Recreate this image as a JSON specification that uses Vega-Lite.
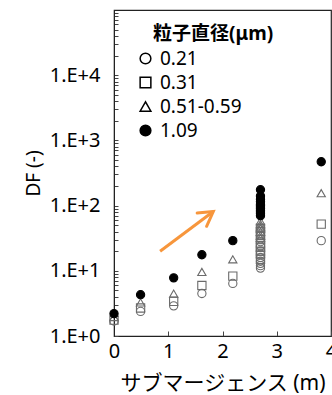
{
  "$schema": "https://vega.github.io/schema/vega-lite/v6.json",
  "width": 217,
  "height": 326,
  "autosize": "none",
  "padding": {"left": 114, "top": 10, "right": 1, "bottom": 59},
  "background": "white",
  "config": {
    "font": "Noto Sans, Noto Sans CJK JP",
    "view": {"stroke": "#222", "strokeWidth": 1.2}
  },
  "datasets": {
    "pts": [
      {"x": 0, "df": 1.7, "d": "0.21"},
      {"x": 0, "df": 1.75, "d": "0.31"},
      {"x": 0, "df": 1.95, "d": "0.51-0.59"},
      {"x": 0.49, "df": 2.38, "d": "0.21"},
      {"x": 0.49, "df": 2.69, "d": "0.31"},
      {"x": 0.49, "df": 3.28, "d": "0.51-0.59"},
      {"x": 1.1, "df": 2.9, "d": "0.21"},
      {"x": 1.1, "df": 3.4, "d": "0.31"},
      {"x": 1.1, "df": 4.47, "d": "0.51-0.59"},
      {"x": 1.62, "df": 4.48, "d": "0.21"},
      {"x": 1.62, "df": 5.96, "d": "0.31"},
      {"x": 1.62, "df": 9.6, "d": "0.51-0.59"},
      {"x": 2.19, "df": 6.4, "d": "0.21"},
      {"x": 2.19, "df": 8.3, "d": "0.31"},
      {"x": 2.19, "df": 15, "d": "0.51-0.59"},
      {"x": 2.7, "df": 28, "d": "0.21"},
      {"x": 2.7, "df": 24, "d": "0.21"},
      {"x": 2.7, "df": 20, "d": "0.21"},
      {"x": 2.7, "df": 18, "d": "0.21"},
      {"x": 2.7, "df": 16, "d": "0.21"},
      {"x": 2.7, "df": 14, "d": "0.21"},
      {"x": 2.7, "df": 13, "d": "0.21"},
      {"x": 2.7, "df": 12, "d": "0.21"},
      {"x": 2.7, "df": 11, "d": "0.21"},
      {"x": 2.7, "df": 45, "d": "0.31"},
      {"x": 2.7, "df": 40, "d": "0.31"},
      {"x": 2.7, "df": 35, "d": "0.31"},
      {"x": 2.7, "df": 30, "d": "0.31"},
      {"x": 2.7, "df": 26, "d": "0.31"},
      {"x": 2.7, "df": 23, "d": "0.31"},
      {"x": 2.7, "df": 20, "d": "0.31"},
      {"x": 2.7, "df": 18, "d": "0.31"},
      {"x": 2.7, "df": 15, "d": "0.31"},
      {"x": 2.7, "df": 58, "d": "0.51-0.59"},
      {"x": 2.7, "df": 52, "d": "0.51-0.59"},
      {"x": 2.7, "df": 48, "d": "0.51-0.59"},
      {"x": 2.7, "df": 45, "d": "0.51-0.59"},
      {"x": 2.7, "df": 40, "d": "0.51-0.59"},
      {"x": 2.7, "df": 35, "d": "0.51-0.59"},
      {"x": 2.7, "df": 32, "d": "0.51-0.59"},
      {"x": 3.82, "df": 29, "d": "0.21"},
      {"x": 3.82, "df": 52, "d": "0.31"},
      {"x": 3.82, "df": 155, "d": "0.51-0.59"},
      {"x": 0, "df": 2.2, "d": "1.09"},
      {"x": 0.49, "df": 4.3, "d": "1.09"},
      {"x": 1.1, "df": 7.8, "d": "1.09"},
      {"x": 1.62, "df": 17.6, "d": "1.09"},
      {"x": 2.19, "df": 29, "d": "1.09"},
      {"x": 2.7, "df": 175, "d": "1.09"},
      {"x": 2.7, "df": 140, "d": "1.09"},
      {"x": 2.7, "df": 125, "d": "1.09"},
      {"x": 2.7, "df": 115, "d": "1.09"},
      {"x": 2.7, "df": 105, "d": "1.09"},
      {"x": 2.7, "df": 100, "d": "1.09"},
      {"x": 2.7, "df": 95, "d": "1.09"},
      {"x": 2.7, "df": 90, "d": "1.09"},
      {"x": 2.7, "df": 85, "d": "1.09"},
      {"x": 2.7, "df": 80, "d": "1.09"},
      {"x": 2.7, "df": 75, "d": "1.09"},
      {"x": 2.7, "df": 70, "d": "1.09"},
      {"x": 3.82, "df": 470, "d": "1.09"}
    ],
    "arrow": [
      {"x1": 0.85, "y1": 20, "x2": 1.83, "y2": 81}
    ]
  },
  "layer": [
    {
      "data": {"name": "pts"},
      "mark": {"type": "point", "size": 68, "strokeWidth": 1.1, "opacity": 1},
      "encoding": {
        "x": {
          "field": "x", "type": "quantitative",
          "scale": {"domain": [0, 4], "nice": false, "zero": false},
          "axis": {
            "values": [0, 1, 2, 3, 4],
            "format": "d",
            "grid": false,
            "tickSize": -5,
            "tickColor": "#444",
            "domainColor": "#222",
            "labelFontSize": 20,
            "labelColor": "black",
            "labelPadding": 10,
            "labelFlush": false,
            "title": "サブマージェンス (m)",
            "titleFontSize": 21,
            "titleFontWeight": "normal",
            "titleColor": "black",
            "titleX": 108.5,
            "titleY": 47,
            "titleBaseline": "middle",
            "titleAlign": "center"
          }
        },
        "y": {
          "field": "df", "type": "quantitative",
          "scale": {"type": "log", "domain": [1, 100000], "nice": false},
          "axis": {
            "values": [1, 2, 3, 4, 5, 6, 7, 8, 9, 10, 20, 30, 40, 50, 60, 70, 80, 90, 100, 200, 300, 400, 500, 600, 700, 800, 900, 1000, 2000, 3000, 4000, 5000, 6000, 7000, 8000, 9000, 10000, 20000, 30000, 40000, 50000, 60000, 70000, 80000, 90000],
            "labelExpr": "indexof([1, 10, 100, 1000, 10000], datum.value) >= 0 ? '1.E+' + round(log(datum.value) / LN10) : ''",
            "labelOverlap": false,
            "labelFlush": false,
            "grid": false,
            "tickSize": -4,
            "tickColor": "#444",
            "domainColor": "#222",
            "labelFontSize": 20,
            "labelColor": "black",
            "labelPadding": 18,
            "title": "DF (-)",
            "titleFontSize": 19,
            "titleFontWeight": "normal",
            "titleColor": "black",
            "titleX": -81,
            "titleY": 163,
            "titleAngle": -90,
            "titleAlign": "center",
            "titleBaseline": "middle"
          }
        },
        "shape": {
          "field": "d", "type": "nominal",
          "scale": {"domain": ["0.21", "0.31", "0.51-0.59", "1.09"], "range": ["circle", "square", "triangle-up", "circle"]},
          "legend": {
            "title": "粒子直径(μm)",
            "orient": "none",
            "legendX": 39,
            "legendY": 15,
            "titleFontSize": 19,
            "titleFontWeight": "bold",
            "titleColor": "black",
            "titlePadding": 5,
            "labelFontSize": 19,
            "labelColor": "black",
            "labelOffset": 5,
            "symbolOffset": -17,
            "symbolSize": 115,
            "symbolStrokeWidth": 1.5,
            "rowPadding": 4,
            "padding": 0,
            "encode": {
              "symbols": {
                "update": {
                  "stroke": {"value": "black"},
                  "fill": {"signal": "datum.value === '1.09' ? 'black' : 'transparent'"}
                }
              }
            }
          }
        },
        "fill": {
          "field": "d", "type": "nominal",
          "scale": {"domain": ["0.21", "0.31", "0.51-0.59", "1.09"], "range": ["transparent", "transparent", "transparent", "black"]},
          "legend": null
        },
        "stroke": {"condition": {"test": "datum.d !== '1.09'", "value": "#6b6b6b"}, "value": "black"}
      }
    },
    {
      "data": {"name": "arrow"},
      "mark": {"type": "rule", "color": "#F7963C", "strokeWidth": 3},
      "encoding": {
        "x": {"field": "x1", "type": "quantitative"},
        "y": {"field": "y1", "type": "quantitative"},
        "x2": {"field": "x2"},
        "y2": {"field": "y2"}
      }
    },
    {
      "data": {"name": "arrow"},
      "mark": {"type": "point", "shape": "M -1 -0.58 L 0 0 L -1 0.58", "size": 784, "angle": -35.5, "filled": false, "stroke": "#F7963C", "strokeWidth": 3, "opacity": 1, "strokeCap": "round"},
      "encoding": {
        "x": {"field": "x2", "type": "quantitative"},
        "y": {"field": "y2", "type": "quantitative"}
      }
    }
  ]
}
